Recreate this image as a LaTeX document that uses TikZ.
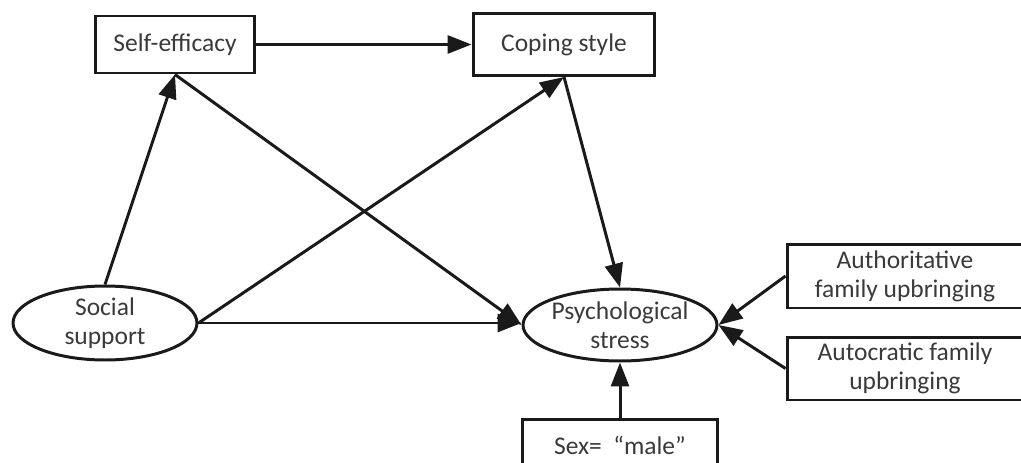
\documentclass[tikz,border=0pt]{standalone}
\usepackage{fontspec}
\setmainfont{Carlito}
\usetikzlibrary{arrows.meta,shapes.geometric}
\definecolor{ink}{HTML}{1A1A1A}
\definecolor{txt}{HTML}{3A3A3A}

\begin{document}
\begin{tikzpicture}[
  x=0.02cm,y=-0.02cm,
  b/.style={draw=ink,line width=1.7pt,fill=white,align=center,inner sep=0pt,
            font=\fontsize{14.5}{16.5}\selectfont,text=txt},
  e/.style={b,ellipse},
  a/.style={-{Triangle[length=4.8mm,width=3.6mm]},draw=ink,line width=1.7pt}]
\useasboundingbox (0,0) rectangle (1021,463);
\clip (0,0) rectangle (1021,463);
\node[b,minimum width=3.2cm,minimum height=1.14cm]  (self)  at (175,44.5) {Self-efficacy};
\node[b,minimum width=3.64cm,minimum height=1.24cm] (cop)   at (564,44.5) {Coping style};
\node[e,minimum width=3.68cm,minimum height=1.48cm] (soc)   at (105,323)  {Social\\support};
\node[e,minimum width=3.88cm,minimum height=1.44cm] (psy)   at (620,325)  {Psychological\\stress};
\node[b,minimum width=4.72cm,minimum height=1.28cm] (auth)  at (905,276)  {Authoritative\\family upbringing};
\node[b,minimum width=4.72cm,minimum height=1.26cm] (autoc) at (905,368.5) {Autocratic family\\upbringing};
\node[b,minimum width=3.9cm,anchor=north,text height=0.7cm,text depth=1cm] (sex) at (620,418) {Sex=~~“male”};
\draw[a] (self.east) -- (cop.west);
\draw[a] (soc.north) -- (self.south);
\draw[a] (self.south) -- (psy.west);
\draw[a] (soc.east) -- (cop.south);
\draw[a] (soc.east) -- (soc.east -| psy.west);
\draw[a] (cop.south) -- (psy.north);
\draw[a] (auth.west) -- (psy.east);
\draw[a] (autoc.west) -- (psy.east);
\draw[a] (sex.north) -- (psy.south);
\end{tikzpicture}
\end{document}
